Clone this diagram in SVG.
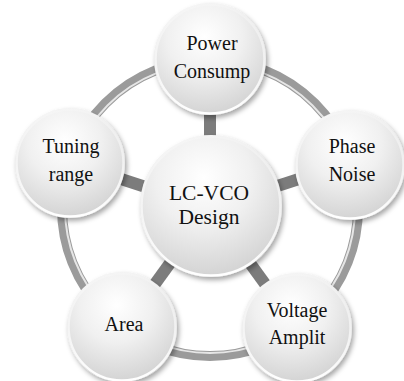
<svg xmlns="http://www.w3.org/2000/svg" width="404" height="381" viewBox="0 0 404 381">
<defs>
<radialGradient id="ball" cx="0.45" cy="0.3" r="0.75">
<stop offset="0" stop-color="#ffffff"/>
<stop offset="0.45" stop-color="#f0f0f0"/>
<stop offset="1" stop-color="#cfcfcf"/>
</radialGradient>
<linearGradient id="rim" x1="0" y1="0" x2="0" y2="1">
<stop offset="0" stop-color="#ffffff" stop-opacity="0.2"/>
<stop offset="1" stop-color="#ffffff" stop-opacity="1"/>
</linearGradient>
<filter id="sh" x="-30%" y="-30%" width="160%" height="160%">
<feDropShadow dx="2" dy="3" stdDeviation="2.5" flood-color="#000" flood-opacity="0.35"/>
</filter>
</defs>
<style>
.ring{fill:none;stroke:#9b9b9b;stroke-width:10}
.ringhi{fill:none;stroke:#e6e6e6;stroke-width:2}
.spoke{stroke:#7c7c7c;stroke-width:12}
.node{fill:url(#ball);filter:url(#sh)}
.edge{fill:none;stroke:url(#rim);stroke-width:2.5}
text{font-family:'Liberation Serif','DejaVu Serif',serif;fill:#111;text-anchor:middle}
.t{font-size:20px}
.c{font-size:21.5px}
</style>
<g id="connectors">
<circle class="ring" cx="210" cy="208" r="148"/>
<circle class="ringhi" cx="210" cy="208" r="145"/>
<line class="spoke" x1="210" y1="208" x2="210" y2="60"/>
<line class="spoke" x1="210" y1="208" x2="69" y2="162"/>
<line class="spoke" x1="210" y1="208" x2="351" y2="162"/>
<line class="spoke" x1="210" y1="208" x2="123" y2="328"/>
<line class="spoke" x1="210" y1="208" x2="297" y2="328"/>
</g>
<g id="node-power">
<circle class="node" cx="210" cy="59" r="56"/>
<circle class="edge" cx="210" cy="59" r="54.5"/>
<text class="t" x="212" y="50" font-family="Liberation Serif, serif">Power</text>
<text class="t" x="212" y="78" font-family="Liberation Serif, serif">Consump</text>
</g>
<g id="node-tuning">
<circle class="node" cx="70" cy="163" r="55"/>
<circle class="edge" cx="70" cy="163" r="53.5"/>
<text class="t" x="71" y="153" font-family="Liberation Serif, serif">Tuning</text>
<text class="t" x="71" y="181" font-family="Liberation Serif, serif">range</text>
</g>
<g id="node-phase">
<circle class="node" cx="350" cy="165" r="55"/>
<circle class="edge" cx="350" cy="165" r="53.5"/>
<text class="t" x="352" y="153" font-family="Liberation Serif, serif">Phase</text>
<text class="t" x="352" y="181" font-family="Liberation Serif, serif">Noise</text>
</g>
<g id="node-area">
<circle class="node" cx="122" cy="327" r="55"/>
<circle class="edge" cx="122" cy="327" r="53.5"/>
<text class="t" x="124" y="331" font-family="Liberation Serif, serif">Area</text>
</g>
<g id="node-voltage">
<circle class="node" cx="297" cy="328" r="55"/>
<circle class="edge" cx="297" cy="328" r="53.5"/>
<text class="t" x="297" y="317" font-family="Liberation Serif, serif">Voltage</text>
<text class="t" x="297" y="344" font-family="Liberation Serif, serif">Amplit</text>
</g>
<g id="node-hub">
<circle class="node" cx="211" cy="206" r="71"/>
<circle class="edge" cx="211" cy="206" r="69.5"/>
<text class="c" x="209" y="200" font-family="Liberation Serif, serif">LC-VCO</text>
<text class="c" x="209" y="224" font-family="Liberation Serif, serif">Design</text>
</g>
</svg>
